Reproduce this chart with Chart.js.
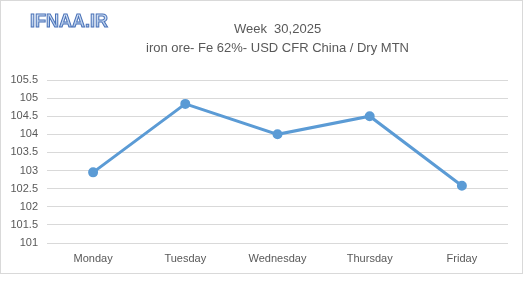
<!DOCTYPE html>
<html><head><meta charset="utf-8">
<script src="https://cdn.jsdelivr.net/npm/chart.js@4"></script>
<style>
html,body{margin:0;padding:0;background:#fff;}
#box{position:absolute;left:0;top:0;width:523px;height:274px;border:1px solid #d9d9d9;box-sizing:border-box;}
canvas{display:block;}
</style></head><body>
<div id="box"><canvas id="c" width="521" height="272"></canvas></div>
<script>
const categories = ['Monday','Tuesday','Wednesday','Thursday','Friday'];
const prices = [102.95, 104.84, 104.0, 104.5, 102.58];
const titleLines = ['Week  30,2025', 'iron ore- Fe 62%- USD CFR China / Dry MTN'];
const logoText = 'IFNAA.IR';

const textPlugin = {
  id: 'textPlugin',
  afterDraw(chart) {
    const ctx = chart.ctx;
    const ca = chart.chartArea;
    const cx = (ca.left + ca.right) / 2;
    ctx.save();
    ctx.fillStyle = '#595959';
    ctx.textAlign = 'center';
    ctx.textBaseline = 'alphabetic';
    ctx.font = '13px "Liberation Sans", Arial, sans-serif';
    ctx.fillText(titleLines[0], cx, 32);
    ctx.fillText(titleLines[1], cx, 51);
    // logo
    ctx.textAlign = 'left';
    ctx.font = 'bold 18px "Liberation Sans", Arial, sans-serif';
    const g = ctx.createLinearGradient(0, 12, 0, 27);
    g.addColorStop(0, '#dfe9f7');
    g.addColorStop(1, '#a9c3e6');
    ctx.fillStyle = g;
    ctx.fillText(logoText, 29, 26);
    ctx.lineWidth = 1;
    ctx.strokeStyle = '#4a72b8';
    ctx.strokeText(logoText, 29, 26);
    ctx.restore();
  }
};

new Chart(document.getElementById('c'), {
  type: 'line',
  data: {
    labels: categories,
    datasets: [{
      data: prices,
      borderColor: '#5b9bd5',
      backgroundColor: '#5b9bd5',
      borderWidth: 3,
      pointRadius: 3.5,
      pointHoverRadius: 3.5,
      tension: 0
    }]
  },
  options: {
    responsive: false,
    animation: false,
    events: [],
    layout: { padding: { top: 79, right: 14, left: 0, bottom: 0 } },
    plugins: { legend: { display: false }, title: { display: false }, tooltip: { enabled: false } },
    scales: {
      x: {
        offset: true,
        grid: { display: false, drawTicks: false },
        border: { display: false },
        ticks: { color: '#595959', font: { family: '"Liberation Sans", Arial, sans-serif', size: 11 }, padding: 9, maxRotation: 0 },
        afterFit(s) { s.height = 30; }
      },
      y: {
        min: 101, max: 105.5,
        ticks: { stepSize: 0.5, color: '#595959', font: { family: '"Liberation Sans", Arial, sans-serif', size: 11 }, padding: 9,
                 callback: (v) => String(+v.toFixed(1)) },
        grid: { color: '#d9d9d9', drawTicks: false, lineWidth: 1 },
        border: { display: false },
        afterFit(s) { s.width = 46; }
      }
    }
  },
  plugins: [textPlugin]
});
</script>
</body></html>
